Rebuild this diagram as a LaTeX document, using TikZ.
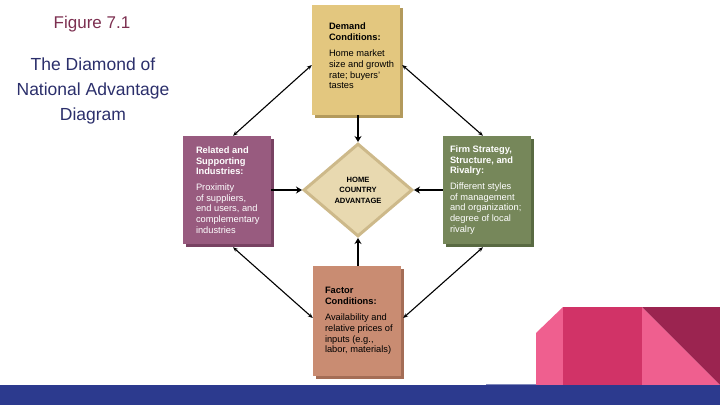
\documentclass[tikz,border=0pt]{standalone}
\usepackage{fontspec}
\setmainfont{Liberation Sans}
\usetikzlibrary{shapes.geometric, arrows.meta, positioning, shadows}

\definecolor{demandfill}{HTML}{E3C77F}
\definecolor{demandedge}{HTML}{B39A5C}
\definecolor{relatedfill}{HTML}{985B7F}
\definecolor{relatededge}{HTML}{784262}
\definecolor{firmfill}{HTML}{76875A}
\definecolor{firmedge}{HTML}{596A42}
\definecolor{factorfill}{HTML}{C98C72}
\definecolor{factoredge}{HTML}{A46D56}
\definecolor{homefill}{HTML}{E8D9B0}
\definecolor{homeedge}{HTML}{CDB98A}
\definecolor{figred}{HTML}{7C2F50}
\definecolor{captionblue}{HTML}{2B2F6B}
\definecolor{barblue}{HTML}{2C3A8E}
\definecolor{lightpink}{HTML}{EF5F8F}
\definecolor{midpink}{HTML}{D13367}
\definecolor{darkpink}{HTML}{9B2450}

\begin{document}
\begin{tikzpicture}[
    x=1pt, y=-1pt,
    box/.style={rectangle, minimum width=88pt, minimum height=110pt, inner sep=0pt,
        fill=#1fill, drop shadow={shadow xshift=2.5pt, shadow yshift=-2.5pt, fill=#1edge, opacity=1}},
    boxtext/.style={align=left, inner sep=0pt, font=\fontsize{9.3}{10.7}\selectfont},
    home/.style={diamond, minimum width=109pt, minimum height=93pt, inner sep=0pt,
        fill=homefill, draw=homeedge, line width=3pt, align=center,
        font=\bfseries\fontsize{7.6}{10.5}\selectfont},
    arrow/.style={-{Stealth[length=6pt, width=7pt]}, line width=2.6pt},
    link/.style={{Stealth[length=5pt, width=4pt]}-{Stealth[length=5pt, width=4pt]}, line width=1.1pt}
]
\useasboundingbox (0,0) rectangle (720,405);

\node[font=\fontsize{17}{20}\selectfont, text=figred] (fig) at (92,24) {Figure 7.1};
\node[font=\fontsize{17.5}{25}\selectfont, text=captionblue, align=center] (caption) at (93,91)
    {The Diamond of\\National Advantage\\Diagram};

\node[box=demand, minimum height=110pt] (demand) at (356,60) {};
\node[box=related, minimum height=108pt] (related) at (227,190) {};
\node[box=firm, minimum height=108pt] (firm) at (487,190) {};
\node[box=factor, minimum height=110pt] (factor) at (357,321) {};
\node[home] (center) at (358,190) {HOME\\COUNTRY\\ADVANTAGE};

\node[boxtext, right=17pt of demand.west, yshift=4pt] (demandtxt)
    {\textbf{Demand}\\\textbf{Conditions:}\\[5.5pt]Home market\\size and growth\\rate; buyers'\\tastes};
\node[boxtext, text=white, right=13pt of related.west] (relatedtxt)
    {\textbf{Related and}\\\textbf{Supporting}\\\textbf{Industries:}\\[5pt]Proximity\\of suppliers,\\end users, and\\complementary\\industries};
\node[boxtext, text=white, right=7pt of firm.west] (firmtxt)
    {\textbf{Firm Strategy,}\\\textbf{Structure, and}\\\textbf{Rivalry:}\\[5pt]Different styles\\of management\\and organization;\\degree of local\\rivalry};
\node[boxtext, right=12pt of factor.west] (factortxt)
    {\textbf{Factor}\\\textbf{Conditions:}\\[5.5pt]Availability and\\relative prices of\\inputs (e.g.,\\labor, materials)};

\draw[arrow] (demand.south -| center) -- (center.north);
\draw[arrow] (factor.north -| center) -- (center.south);
\draw[arrow] (related.east) -- (center.west);
\draw[arrow] (firm.west) -- (center.east);

\draw[link] ([yshift=-5pt]demand.west) -- ([xshift=6pt]related.north);
\draw[link] ([xshift=2pt, yshift=-5pt]demand.east) -- ([xshift=-4pt]firm.north);
\draw[link] ([xshift=6pt, yshift=-3pt]related.south) -- ([yshift=3pt]factor.west);
\draw[link] ([xshift=-4pt, yshift=-3pt]firm.south) -- ([xshift=2pt, yshift=3pt]factor.east);

\fill[lightpink] (536,333) -- (563,307) -- (563,385) -- (536,385) -- cycle;
\fill[midpink] (563,307) rectangle (642,385);
\fill[lightpink] (642,307) -- (720,385) -- (642,385) -- cycle;
\fill[darkpink] (642,307) -- (720,307) -- (720,385) -- cycle;
\fill[barblue!60] (486,383.5) rectangle (536,385);
\fill[barblue] (0,385) rectangle (720,405);

\end{tikzpicture}
\end{document}
